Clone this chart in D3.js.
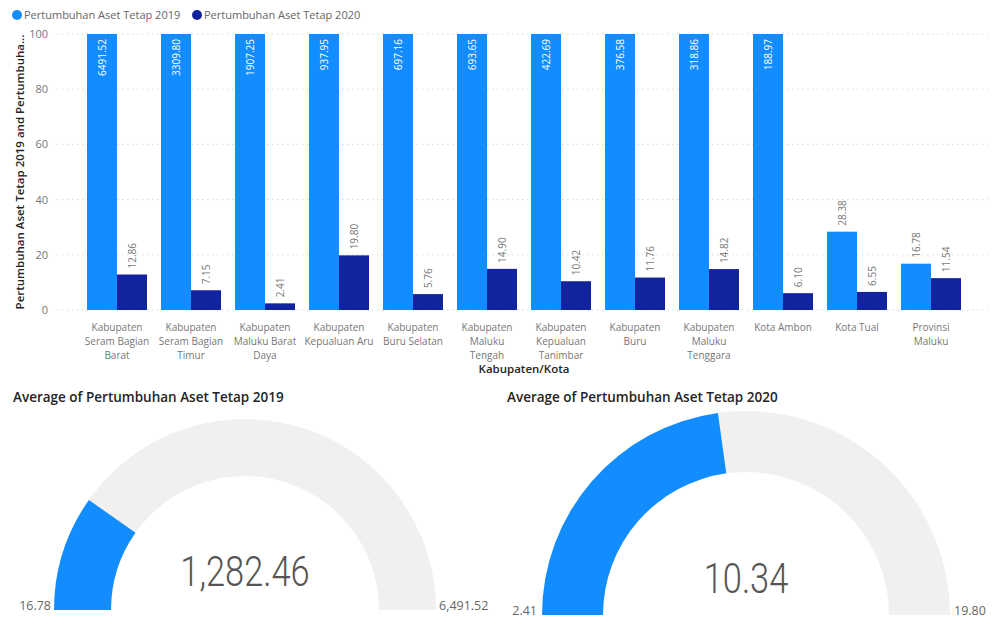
<!DOCTYPE html>
<html><head><meta charset="utf-8">
<script src="https://cdn.jsdelivr.net/npm/d3@7"></script>
<style>
body{margin:0;background:#fff;}
svg{display:block;font-family:"Open Sans","Segoe UI",sans-serif;}
</style></head>
<body><svg id="c" width="995" height="620"></svg>
<script>
const categories = [
  ["Kabupaten","Seram Bagian","Barat"],
  ["Kabupaten","Seram Bagian","Timur"],
  ["Kabupaten","Maluku Barat","Daya"],
  ["Kabupaten","Kepualuan Aru"],
  ["Kabupaten","Buru Selatan"],
  ["Kabupaten","Maluku","Tengah"],
  ["Kabupaten","Kepualuan","Tanimbar"],
  ["Kabupaten","Buru"],
  ["Kabupaten","Maluku","Tenggara"],
  ["Kota Ambon"],
  ["Kota Tual"],
  ["Provinsi","Maluku"]
];
const series2019 = [6491.52, 3309.80, 1907.25, 937.95, 697.16, 693.65, 422.69, 376.58, 318.86, 188.97, 28.38, 16.78];
const series2020 = [12.86, 7.15, 2.41, 19.80, 5.76, 14.90, 10.42, 11.76, 14.82, 6.10, 6.55, 11.54];
const seriesNames = ["Pertumbuhan Aset Tetap 2019", "Pertumbuhan Aset Tetap 2020"];
const yTicks = [0, 20, 40, 60, 80, 100];
const gauge2019 = {title: "Average of Pertumbuhan Aset Tetap 2019", min: 16.78, max: 6491.52, value: 1282.46, minLabel: "16.78", maxLabel: "6,491.52", valueLabel: "1,282.46"};
const gauge2020 = {title: "Average of Pertumbuhan Aset Tetap 2020", min: 2.41, max: 19.80, value: 10.34, minLabel: "2.41", maxLabel: "19.80", valueLabel: "10.34"};

const C1 = "#118DFF", C2 = "#12239E", GREY = "#F1F0EF";
const svg = d3.select("#c");

// legend
const leg = svg.append("g");
[[17, 25, 0], [197, 205, 1]].forEach(([cx, tx, i]) => {
  leg.append("circle").attr("cx", cx).attr("cy", 15).attr("r", 5).attr("fill", i ? C2 : C1);
  leg.append("text").attr("x", tx - 1).attr("y", 19).attr("font-size", 11).attr("fill", "#666").text(seriesNames[i]);
});

// bar chart
const x0 = d3.scaleBand().domain(d3.range(categories.length)).range([80, 968]).paddingInner(14/74).paddingOuter(7/74);
const x1 = d3.scaleBand().domain([0, 1]).range([0, x0.bandwidth()]);
const y = d3.scaleLinear().domain([0, 100]).range([310, 34]);

const grid = svg.append("g");
yTicks.forEach(t => {
  grid.append("line").attr("x1", 57).attr("x2", 988).attr("y1", y(t)).attr("y2", y(t))
    .attr("stroke", "#d9d9d9").attr("stroke-width", 1).attr("stroke-dasharray", "1.5,3.5");
});
const yAxis = d3.axisLeft(y).tickValues(yTicks).tickSize(0).tickPadding(0);
const ya = svg.append("g").attr("transform", "translate(48,0)").call(yAxis);
ya.select(".domain").remove();
ya.selectAll("text").attr("font-size", 11).attr("fill", "#777").attr("font-family", "'Open Sans',sans-serif");

svg.append("text").attr("transform", "translate(24,172) rotate(-90)").attr("text-anchor", "middle")
  .attr("font-size", 11.5).attr("font-weight", 600).attr("fill", "#252423")
  .text("Pertumbuhan Aset Tetap 2019 and Pertumbuha...");

const data = [series2019, series2020];
const groups = svg.append("g");
categories.forEach((c, i) => {
  [0, 1].forEach(s => {
    const v = data[s][i];
    const vv = Math.min(v, 100);
    const bx = x0(i) + x1(s);
    groups.append("rect").attr("x", bx).attr("y", y(vv)).attr("width", x1.bandwidth()).attr("height", y(0) - y(vv))
      .attr("fill", s ? C2 : C1);
    const cx = bx + x1.bandwidth() / 2 + 4;
    if (v > 100) {
      groups.append("text").attr("transform", `translate(${cx},${y(100) + 5}) rotate(-90)`)
        .attr("text-anchor", "end").attr("font-size", 10).attr("fill", "#fff").text(v.toFixed(2));
    } else {
      groups.append("text").attr("transform", `translate(${cx},${y(v) - 6}) rotate(-90)`)
        .attr("text-anchor", "start").attr("font-size", 10).attr("fill", "#777").text(v.toFixed(2));
    }
  });
  const t = svg.append("text").attr("text-anchor", "middle").attr("font-size", 10).attr("fill", "#777");
  c.forEach((line, k) => {
    t.append("tspan").attr("x", x0(i) + x0.bandwidth() / 2).attr("y", 331 + k * 14).text(line);
  });
});
svg.append("text").attr("x", 524).attr("y", 373).attr("text-anchor", "middle")
  .attr("font-size", 11.5).attr("font-weight", 600).attr("fill", "#252423").text("Kabupaten/Kota");

// gauges
function drawGauge(g, cx, cy, ro, ri, tx, lxMin, lxMax, valY) {
  svg.append("text").attr("x", tx).attr("y", 402).attr("font-size", 13.5).attr("font-weight", 600)
    .attr("fill", "#252423").text(g.title);
  const sc = d3.scaleLinear().domain([g.min, g.max]).range([-Math.PI / 2, Math.PI / 2]);
  const arc = d3.arc().innerRadius(ri).outerRadius(ro);
  const gg = svg.append("g").attr("transform", `translate(${cx},${cy})`);
  gg.append("path").attr("d", arc({startAngle: -Math.PI / 2, endAngle: Math.PI / 2})).attr("fill", GREY);
  gg.append("path").attr("d", arc({startAngle: -Math.PI / 2, endAngle: sc(g.value)})).attr("fill", C1);
  svg.append("text").attr("transform", `translate(${cx},${valY}) scale(0.8,1)`).attr("text-anchor", "middle")
    .attr("font-family", "Roboto,sans-serif").attr("font-weight", 300).attr("font-size", 43).attr("fill", "#555")
    .text(g.valueLabel);
  svg.append("text").attr("x", lxMin).attr("y", cy).attr("text-anchor", "end").attr("font-size", 12.5)
    .attr("fill", "#666").text(g.minLabel);
  svg.append("text").attr("x", lxMax).attr("y", cy).attr("text-anchor", "start").attr("font-size", 12.5)
    .attr("fill", "#666").text(g.maxLabel);
}
drawGauge(gauge2019, 245, 610, 191, 134, 13, 51, 439, 586);
drawGauge(gauge2020, 746, 615, 204, 143, 507, 537, 954, 593);
</script></body></html>
